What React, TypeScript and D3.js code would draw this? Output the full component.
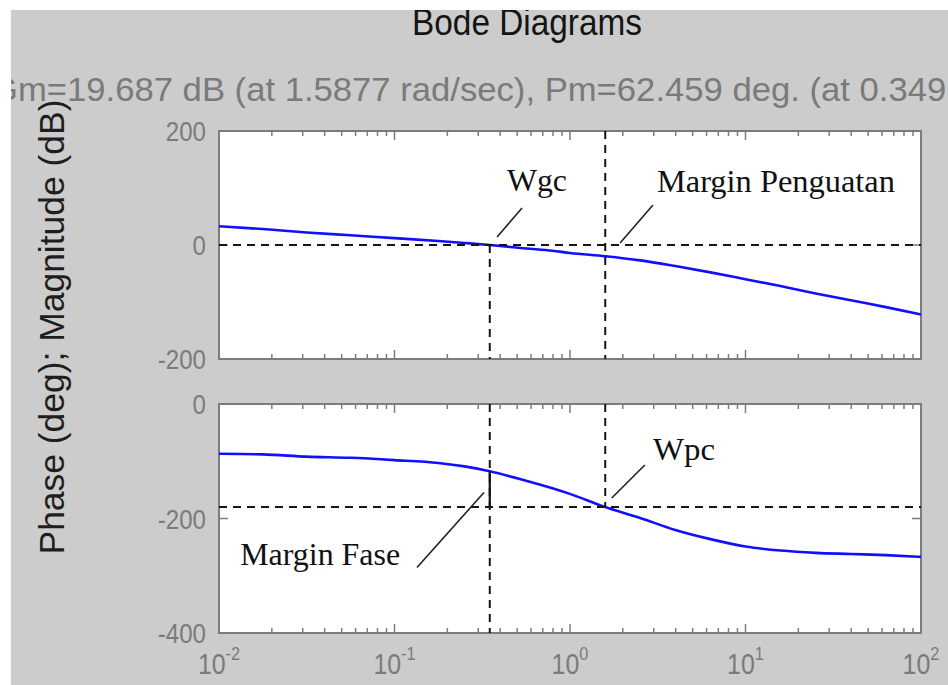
import React from "react";
import * as d3 from "d3";

// ---- data ----
const freqs = [0.01, 0.0178, 0.0316, 0.0562, 0.1, 0.178, 0.251, 0.349, 0.562, 0.794, 1, 1.5877, 2.51, 3.98, 6.31, 10, 15.8, 25.1, 39.8, 63.1, 100];
const magDb = [33, 28, 22, 17, 12, 7, 3.5, 0, -6, -10, -14, -19.7, -27, -37, -48, -60, -72, -85, -97, -109, -122];
const phaseDeg = [-87, -88, -92, -94, -98, -103, -109, -117.5, -134, -147, -157, -180, -199, -220, -236, -249, -256, -260, -262, -264, -267];

const magTicks = [200, 0, -200];
const phaseTicks = [0, -200, -400];
const decadeExps = [-2, -1, 0, 1, 2];

const gmFreq = 1.5877;
const gmDb = 19.687;
const pmFreq = 0.349;
const pmDeg = 62.459;

const titleText = "Bode Diagrams";
const subtitleText = `Gm=${gmDb} dB (at ${gmFreq} rad/sec), Pm=${pmDeg} deg. (at ${pmFreq} rad/sec)`;
const yLabelText = "Phase (deg); Magnitude (dB)";

// annotations in data units: [freq, value]
const magNotes = [
  { text: "Wgc", at: [0.4375, 95], len: 60, from: [0.533, 65], to: [0.384, 14] },
  { text: "Margin Penguatan", at: [3.13, 93], len: 238, from: [2.97, 70], to: [1.93, 3.5] },
];
const phaseNotes = [
  { text: "Wpc", at: [2.97, -98], len: 62, from: [2.67, -106.6], to: [1.73, -164.2] },
  { text: "Margin Fase", at: [0.0132, -281], len: 160, from: [0.3236, -154.5], to: [0.1343, -285.5] },
];

const W = 948;
const H = 685;
const L = 219, R = 921;
const magTop = 131, magBot = 359;
const phTop = 404, phBot = 633;

const sans = "'Liberation Sans', Arial, Helvetica, sans-serif";
const serif = "'Liberation Serif', 'Times New Roman', serif";

export default function App() {
  const x = d3.scaleLog().domain([0.01, 100]).range([L, R]);
  const yMag = d3.scaleLinear().domain([-200, 200]).range([magBot, magTop]);
  const yPh = d3.scaleLinear().domain([-400, 0]).range([phBot, phTop]);

  const magLine = d3.line<number>().x((_, i) => x(freqs[i])).y((d) => yMag(d)).curve(d3.curveMonotoneX);
  const phLine = d3.line<number>().x((_, i) => x(freqs[i])).y((d) => yPh(d)).curve(d3.curveMonotoneX);

  const minorTicks: number[] = [];
  for (let e = -2; e < 2; e++) for (let k = 2; k <= 9; k++) minorTicks.push(k * Math.pow(10, e));
  const majorTicks = decadeExps.map((e) => Math.pow(10, e));

  const frameColor = "#7c7c7c";
  const dash = "8 6";
  const dashColor = "#151515";
  const tickText = "#7b7b7b";

  const panel = (top: number, bot: number, y: d3.ScaleLinear<number, number>, ticks: number[], key: string) => (
    <g key={key}>
      <rect x={L} y={top} width={R - L} height={bot - top} fill="#ffffff" />
      {minorTicks.map((f, i) => (
        <g key={"m" + i} stroke={frameColor} strokeWidth={1.5}>
          <line x1={x(f)} x2={x(f)} y1={top} y2={top + 5} />
          <line x1={x(f)} x2={x(f)} y1={bot} y2={bot - 5} />
        </g>
      ))}
      {majorTicks.map((f, i) => (
        <g key={"M" + i} stroke={frameColor} strokeWidth={1.5}>
          <line x1={x(f)} x2={x(f)} y1={top} y2={top + 9} />
          <line x1={x(f)} x2={x(f)} y1={bot} y2={bot - 9} />
        </g>
      ))}
      {ticks.map((t, i) => (
        <g key={"y" + i}>
          <line x1={L} x2={L + 9} y1={y(t)} y2={y(t)} stroke={frameColor} strokeWidth={1.5} />
          <line x1={R} x2={R - 9} y1={y(t)} y2={y(t)} stroke={frameColor} strokeWidth={1.5} />
          <g transform={`translate(206, ${y(t) + 10}) scale(0.86, 1)`}>
            <text x={0} y={0} textAnchor="end" fontFamily={sans} fontSize={28} fill={tickText}>
              {t}
            </text>
          </g>
        </g>
      ))}
      <rect x={L} y={top} width={R - L} height={bot - top} fill="none" stroke={frameColor} strokeWidth={2} />
    </g>
  );

  const note = (n: any, y: d3.ScaleLinear<number, number>, i: number) => (
    <g key={n.text + i}>
      <text
        x={x(n.at[0])}
        y={y(n.at[1])}
        fontFamily={serif}
        fontSize={31}
        fill="#111"
        textLength={n.len}
        lengthAdjust="spacingAndGlyphs"
      >
        {n.text}
      </text>
      <line x1={x(n.from[0])} y1={y(n.from[1])} x2={x(n.to[0])} y2={y(n.to[1])} stroke="#222" strokeWidth={1.6} />
    </g>
  );

  const pmPhase = -180 + pmDeg;

  return (
    <div style={{ position: "absolute", left: 0, top: 0 }}>
      <svg width={W} height={H} viewBox={`0 0 ${W} ${H}`} style={{ display: "block", background: "#ffffff" }}>
        <defs>
          <clipPath id="fig">
            <rect x={11} y={10} width={W - 11} height={H - 10} />
          </clipPath>
          <clipPath id="magClip">
            <rect x={L} y={magTop} width={R - L} height={magBot - magTop} />
          </clipPath>
          <clipPath id="phClip">
            <rect x={L} y={phTop} width={R - L} height={phBot - phTop} />
          </clipPath>
        </defs>
        <g clipPath="url(#fig)">
          <rect x={0} y={0} width={W} height={H} fill="#cbcccb" />
          <text x={412} y={35} fontFamily={sans} fontSize={36} fill="#141414" textLength={230} lengthAdjust="spacingAndGlyphs">
            {titleText}
          </text>
          <text x={-9} y={101} fontFamily={sans} fontSize={34} fill="#7a7a7a" textLength={1090} lengthAdjust="spacingAndGlyphs">
            {subtitleText}
          </text>
          <text
            transform={`translate(64, 327) rotate(-90)`}
            textAnchor="middle"
            fontFamily={sans}
            fontSize={35}
            fill="#1e1e1e"
            textLength={455}
            lengthAdjust="spacingAndGlyphs"
          >
            {yLabelText}
          </text>

          {panel(magTop, magBot, yMag, magTicks, "mag")}
          {panel(phTop, phBot, yPh, phaseTicks, "ph")}

          {/* magnitude panel contents */}
          <g clipPath="url(#magClip)">
            <path d={magLine(magDb) || ""} fill="none" stroke="#1010ff" strokeWidth={2.6} />
            <line x1={L} x2={R} y1={yMag(0)} y2={yMag(0)} stroke={dashColor} strokeWidth={2} strokeDasharray={dash} />
            <line x1={x(pmFreq)} x2={x(pmFreq)} y1={yMag(0)} y2={yMag(-200)} stroke={dashColor} strokeWidth={2} strokeDasharray={dash} />
            <line x1={x(gmFreq)} x2={x(gmFreq)} y1={yMag(200)} y2={yMag(-200)} stroke={dashColor} strokeWidth={2} strokeDasharray={dash} />
          </g>
          {magNotes.map((n, i) => note(n, yMag, i))}

          {/* phase panel contents */}
          <g clipPath="url(#phClip)">
            <path d={phLine(phaseDeg) || ""} fill="none" stroke="#1010ff" strokeWidth={2.6} />
            <line x1={L} x2={R} y1={yPh(-180)} y2={yPh(-180)} stroke={dashColor} strokeWidth={2} strokeDasharray={dash} />
            <line x1={x(pmFreq)} x2={x(pmFreq)} y1={yPh(0)} y2={yPh(-400)} stroke={dashColor} strokeWidth={2} strokeDasharray={dash} />
            <line x1={x(gmFreq)} x2={x(gmFreq)} y1={yPh(0)} y2={yPh(-180)} stroke={dashColor} strokeWidth={2} strokeDasharray={dash} />
            <line x1={x(pmFreq)} x2={x(pmFreq)} y1={yPh(pmPhase)} y2={yPh(-180)} stroke="#111" strokeWidth={2.2} />
          </g>
          {phaseNotes.map((n, i) => note(n, yPh, i))}

          {/* x tick labels */}
          {decadeExps.map((e) => (
            <g key={e} transform={`translate(${x(Math.pow(10, e))}, 674) scale(0.86, 1)`}>
              <text x={0} y={0} textAnchor="middle" fontFamily={sans} fontSize={29} fill={tickText}>
                <tspan>10</tspan>
                <tspan dy={-14} fontSize={19}>
                  {e}
                </tspan>
              </text>
            </g>
          ))}
        </g>
      </svg>
    </div>
  );
}
